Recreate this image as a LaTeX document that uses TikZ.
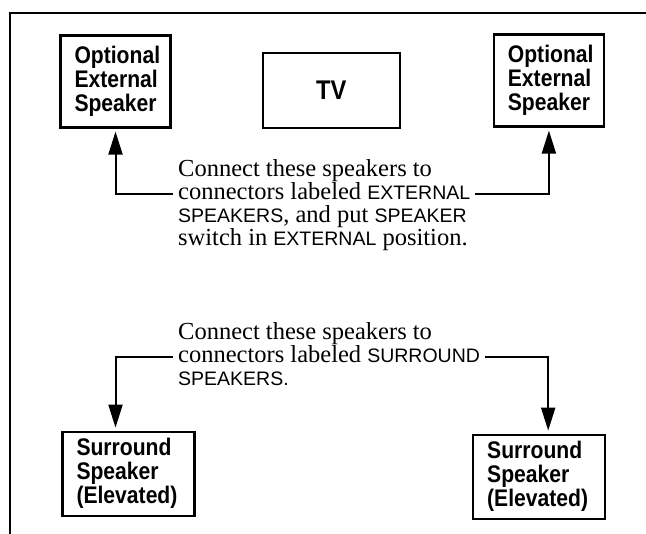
\documentclass[tikz,border=0pt]{standalone}
\usepackage{fontspec}
\setmainfont{Liberation Serif}
\newfontfamily\capsans{Liberation Sans}
\newfontfamily\boxfont[FakeStretch=0.88]{Liberation Sans}
\usetikzlibrary{arrows.meta, positioning}
\newcommand{\lbl}[1]{{\capsans\fontsize{19.5pt}{23pt}\selectfont #1}}

\begin{document}
\begin{tikzpicture}[
    x=1pt, y=-1pt,
    spkbox/.style={rectangle, draw, line width=2.2pt, align=left, inner xsep=14pt, text width=82pt, minimum height=92pt, font=\boxfont\bfseries\fontsize{24pt}{24pt}\selectfont},
    surbox/.style={spkbox, text width=104pt, minimum height=84pt},
    tvbox/.style={rectangle, draw, line width=2.2pt, minimum width=137pt, minimum height=75pt, font=\boxfont\bfseries\fontsize{27pt}{28pt}\selectfont},
    note/.style={align=left, inner sep=0pt, font=\fontsize{24.5pt}{23pt}\selectfont},
    wire/.style={line width=2pt, -{Triangle[length=23pt, width=14pt]}, shorten >=3pt},
    >=Latex
]
\useasboundingbox (0,0) rectangle (646,534);
\draw[line width=2pt] (10,534) -- (10,13) -- (646,13);

\node[spkbox] (ext1) at (115.5,81.5) {Optional\\External\\Speaker};
\node[tvbox, right=90pt of ext1, yshift=-9pt] (tv) {TV};
\node[spkbox, right=92pt of tv, yshift=10pt] (ext2) {Optional\\External\\Speaker};

\node[note, anchor=west] (note1) at (178,205.4) {Connect these speakers to\\connectors labeled \lbl{EXTERNAL}\\\lbl{SPEAKERS}, and put \lbl{SPEAKER}\\switch in \lbl{EXTERNAL} position.};

\node[note, anchor=west] (note2) at (178,354.3) {Connect these speakers to\\connectors labeled \lbl{SURROUND}\\\lbl{SPEAKERS.}};

\node[surbox, below=302pt of ext1, xshift=13pt] (sur1) {Surround\\Speaker\\(Elevated)};
\node[surbox, right=276.5pt of sur1, yshift=-3pt] (sur2) {Surround\\Speaker\\(Elevated)};

\draw[wire] ([xshift=-5pt, yshift=11.4pt]note1.west) -| (ext1.south);
\draw[wire] ([xshift=5pt, yshift=11.4pt]note1.east) -| (ext2.south);
\draw[wire] ([xshift=-5pt, yshift=-2.75pt]note2.west) -| ([xshift=-13pt]sur1.north);
\draw[wire] ([xshift=5pt, yshift=-2.75pt]note2.east) -| ([xshift=9pt]sur2.north);
\end{tikzpicture}
\end{document}
